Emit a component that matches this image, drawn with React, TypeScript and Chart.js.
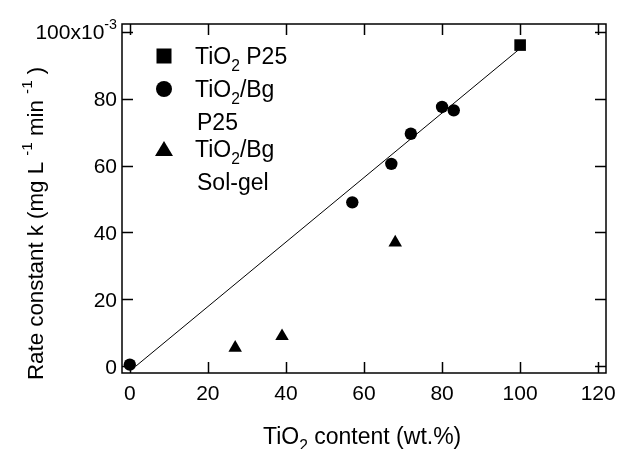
import React, { useEffect, useRef } from "react";
import { Chart, registerables } from "chart.js";

Chart.register(...registerables);

// ---- data ----
const p25X = [100];
const p25Y = [96];
const bgP25X = [0, 57, 67, 72, 80, 83];
const bgP25Y = [0.5, 49, 60.5, 69.5, 77.5, 76.5];
const solgelX = [27, 39, 68];
const solgelY = [5.5, 9, 37];
const fitX = [1.5, 99.5];
const fitY = [0, 94.5];
const xTicks = [0, 20, 40, 60, 80, 100, 120];
const yTicks = [0, 20, 40, 60, 80, 100];

const FONT = '"Liberation Sans", Arial, sans-serif';
const FS = 21; // tick labels
const TS = 23; // titles and legend

type Part = { t: string; s?: "sub" | "sup" };

function richWidth(ctx: CanvasRenderingContext2D, parts: Part[], size: number) {
  let w = 0;
  for (const p of parts) {
    const fs = p.s ? size * 0.68 : size;
    ctx.font = `${fs}px ${FONT}`;
    w += ctx.measureText(p.t).width;
  }
  return w;
}

function drawRich(
  ctx: CanvasRenderingContext2D,
  parts: Part[],
  x: number,
  y: number,
  size: number,
  align: "left" | "center" | "right"
) {
  const w = richWidth(ctx, parts, size);
  let cx = align === "left" ? x : align === "center" ? x - w / 2 : x - w;
  ctx.textAlign = "left";
  ctx.textBaseline = "alphabetic";
  for (const p of parts) {
    const fs = p.s ? size * 0.68 : size;
    ctx.font = `${fs}px ${FONT}`;
    const dy = p.s === "sub" ? size * 0.3 : p.s === "sup" ? -size * 0.5 : 0;
    ctx.fillText(p.t, cx, y + dy);
    cx += ctx.measureText(p.t).width;
  }
}

const framePlugin = {
  id: "frameTicks",
  afterDraw(chart: any) {
    const ctx: CanvasRenderingContext2D = chart.ctx;
    const { left, right, top, bottom } = chart.chartArea;
    const xs = chart.scales.x;
    const ys = chart.scales.y;
    ctx.save();
    ctx.strokeStyle = "#000";
    ctx.fillStyle = "#000";
    ctx.lineWidth = 1.5;
    ctx.strokeRect(left, top, right - left, bottom - top);
    const tl = 11;
    ctx.beginPath();
    for (const v of xTicks) {
      const px = Math.round(xs.getPixelForValue(v)) + 0.5;
      ctx.moveTo(px, bottom);
      ctx.lineTo(px, bottom - tl);
      ctx.moveTo(px, top);
      ctx.lineTo(px, top + tl);
    }
    for (const v of yTicks) {
      const py = Math.round(ys.getPixelForValue(v)) + 0.5;
      ctx.moveTo(left, py);
      ctx.lineTo(left + tl, py);
      ctx.moveTo(right, py);
      ctx.lineTo(right - tl, py);
    }
    ctx.stroke();

    // x tick labels
    for (const v of xTicks) {
      const px = xs.getPixelForValue(v);
      drawRich(ctx, [{ t: String(v) }], px, 400, FS, "center");
    }
    // y tick labels
    for (const v of yTicks) {
      const py = ys.getPixelForValue(v) + FS * 0.36;
      const parts: Part[] = v === 100 ? [{ t: "100x10" }, { t: "-3", s: "sup" }] : [{ t: String(v) }];
      drawRich(ctx, parts, 117, py, FS, "right");
    }

    // x title
    drawRich(
      ctx,
      [{ t: "TiO" }, { t: "2", s: "sub" }, { t: " content (wt.%)" }],
      263,
      444,
      TS,
      "left"
    );
    // y title
    ctx.save();
    ctx.translate(43, 380);
    ctx.rotate(-Math.PI / 2);
    drawRich(
      ctx,
      [
        { t: "Rate constant k (mg L " },
        { t: "-1", s: "sup" },
        { t: " min " },
        { t: "-1", s: "sup" },
        { t: " )" },
      ],
      0,
      0,
      22.3,
      "left"
    );
    ctx.restore();

    // legend
    const mx = 164;
    const tx = 195;
    // square
    ctx.fillRect(mx - 7.5, 56 - 7.5, 15, 15);
    drawRich(ctx, [{ t: "TiO" }, { t: "2", s: "sub" }, { t: " P25" }], tx, 64, TS, "left");
    // circle
    ctx.beginPath();
    ctx.arc(mx, 89, 8, 0, Math.PI * 2);
    ctx.fill();
    drawRich(ctx, [{ t: "TiO" }, { t: "2", s: "sub" }, { t: "/Bg" }], tx, 97, TS, "left");
    drawRich(ctx, [{ t: "P25" }], tx + 2, 130, TS, "left");
    // triangle
    ctx.beginPath();
    ctx.moveTo(mx, 141);
    ctx.lineTo(mx + 9, 156);
    ctx.lineTo(mx - 9, 156);
    ctx.closePath();
    ctx.fill();
    drawRich(ctx, [{ t: "TiO" }, { t: "2", s: "sub" }, { t: "/Bg" }], tx, 157, TS, "left");
    drawRich(ctx, [{ t: "Sol-gel" }], tx + 2, 190, TS, "left");
    ctx.restore();
  },
};

export default function App() {
  const ref = useRef<HTMLCanvasElement | null>(null);
  useEffect(() => {
    if (!ref.current) return;
    const pts = (xs: number[], ys: number[]) => xs.map((x, i) => ({ x, y: ys[i] }));
    const chart = new Chart(ref.current, {
      type: "scatter",
      data: {
        datasets: [
          {
            label: "fit",
            data: pts(fitX, fitY),
            showLine: true,
            borderColor: "#000",
            borderWidth: 1,
            pointRadius: 0,
            fill: false,
          },
          {
            label: "TiO2 P25",
            data: pts(p25X, p25Y),
            pointStyle: "rect",
            pointRadius: 8.2,
            backgroundColor: "#000",
            borderColor: "#000",
            borderWidth: 0,
          },
          {
            label: "TiO2/Bg P25",
            data: pts(bgP25X, bgP25Y),
            pointStyle: "circle",
            pointRadius: 6.2,
            backgroundColor: "#000",
            borderColor: "#000",
            borderWidth: 0,
          },
          {
            label: "TiO2/Bg Sol-gel",
            data: pts(solgelX, solgelY),
            pointStyle: "triangle",
            pointRadius: 7.8,
            backgroundColor: "#000",
            borderColor: "#000",
            borderWidth: 0,
          },
        ],
      },
      options: {
        responsive: false,
        animation: false,
        layout: { padding: { left: 122, right: 12, top: 24, bottom: 76 } },
        plugins: { legend: { display: false }, tooltip: { enabled: false } },
        scales: {
          x: {
            type: "linear",
            min: -2,
            max: 122,
            display: false,
          },
          y: {
            type: "linear",
            min: -2,
            max: 102.3,
            display: false,
          },
        },
      },
      plugins: [framePlugin],
    });
    return () => chart.destroy();
  }, []);
  return (
    <div style={{ position: "fixed", left: 0, top: 0, width: 618, height: 449, background: "#fff" }}>
      <canvas ref={ref} width={618} height={449} style={{ width: 618, height: 449 }} />
    </div>
  );
}
